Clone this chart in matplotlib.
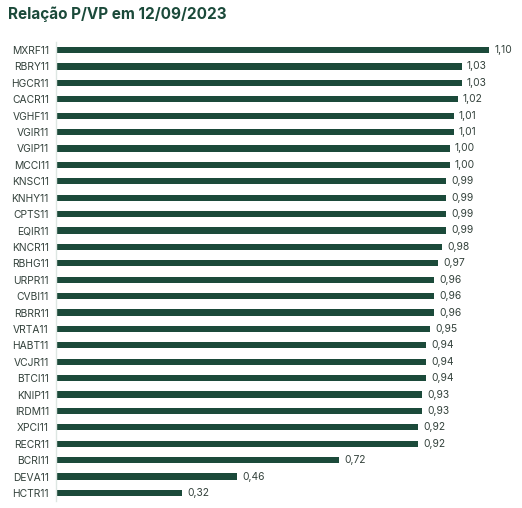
import matplotlib
matplotlib.use("Agg")
import matplotlib.pyplot as plt

tickers = ["MXRF11", "RBRY11", "HGCR11", "CACR11", "VGHF11", "VGIR11", "VGIP11",
           "MCCI11", "KNSC11", "KNHY11", "CPTS11", "EQIR11", "KNCR11", "RBHG11",
           "URPR11", "CVBI11", "RBRR11", "VRTA11", "HABT11", "VCJR11", "BTCI11",
           "KNIP11", "IRDM11", "XPCI11", "RECR11", "BCRI11", "DEVA11", "HCTR11"]
pvp = [1.10, 1.03, 1.03, 1.02, 1.01, 1.01, 1.00,
       1.00, 0.99, 0.99, 0.99, 0.99, 0.98, 0.97,
       0.96, 0.96, 0.96, 0.95, 0.94, 0.94, 0.94,
       0.93, 0.93, 0.92, 0.92, 0.72, 0.46, 0.32]

plt.rcParams['font.family'] = ['Inter', 'DejaVu Sans']

green = "#1b4a3a"
fig = plt.figure(figsize=(5.22, 5.08), dpi=100)
ax = fig.add_axes([0.107, 0.0134, 0.87, 0.9043])

ypos = list(range(len(tickers)))
ax.barh(ypos, pvp, height=0.38, color=green)
ax.set_ylim(len(tickers) - 0.5, -0.5)
ax.set_xlim(0, 1.153)
ax.set_yticks(ypos)
ax.set_yticklabels(tickers, fontsize=7.4, color="#33413b")
ax.tick_params(axis="y", length=0, pad=5)
ax.set_xticks([])

for y, v in zip(ypos, pvp):
    ax.text(v + 0.013, y, f"{v:.2f}".replace(".", ","), va="center", ha="left",
            fontsize=7.4, color="#33413b")

for s in ["top", "right", "bottom"]:
    ax.spines[s].set_visible(False)
ax.spines["left"].set_color("#dde6e2")
ax.spines["left"].set_linewidth(1)

fig.text(8 / 522, 1 - 14 / 508, "Relação P/VP em 12/09/2023", fontsize=11,
         fontweight="bold", color=green, va="center", ha="left")

fig.savefig("out.png", dpi=100)
